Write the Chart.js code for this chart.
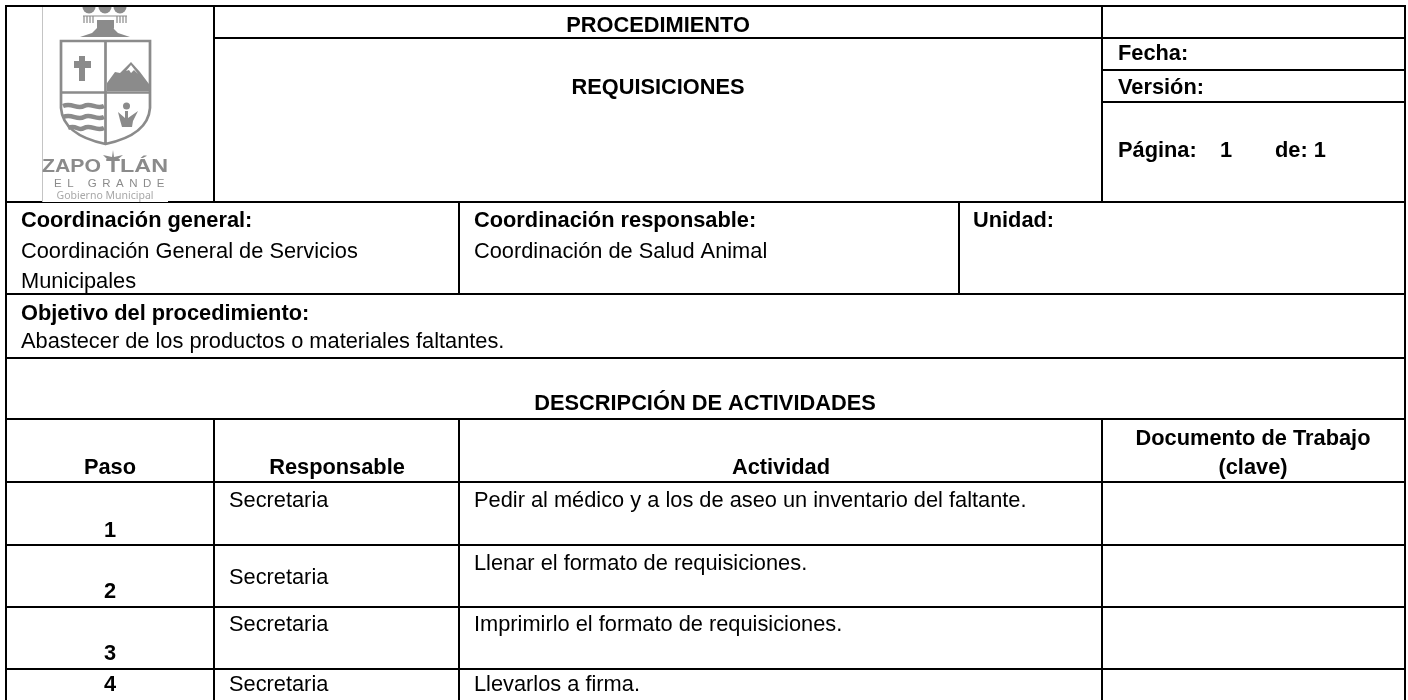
<!DOCTYPE html>
<html lang="es">
<head>
<meta charset="utf-8">
<title>Requisiciones</title>
<script src="https://cdn.jsdelivr.net/npm/chart.js@4"></script>
<style>
  html, body { margin: 0; padding: 0; background: #fff; overflow: hidden; }
  canvas { display: block; }
</style>
</head>
<body>
<canvas id="sheet" width="1408" height="700"></canvas>
<script>
// Table content
const pasos = ["1", "2", "3", "4"];
const responsables = ["Secretaria", "Secretaria", "Secretaria", "Secretaria"];
const actividades = [
    "Pedir al médico y a los de aseo un inventario del faltante.",
    "Llenar el formato de requisiciones.",
    "Imprimirlo el formato de requisiciones.",
    "Llevarlos a firma."
];
const encabezados = ["Paso", "Responsable", "Actividad"];

// Sheet layout, in sheet units (x 0-1408, y 0-700 downwards)
const colX = [6, 214, 459, 959, 1102, 1405];
const rowY = [6, 38, 70, 102, 202, 294, 358, 419, 482, 545, 607, 669, 700];
const pasoBase = [537, 598, 660, 691];
const respBase = [507, 584, 631, 691];
const activBase = [507, 570, 631, 691];

// [x1, y1, x2, y2] for every rule of the form
const rules = [
    [colX[0], rowY[0], colX[5], rowY[0]],
    [colX[1], rowY[1], colX[5], rowY[1]],
    [colX[4], rowY[2], colX[5], rowY[2]],
    [colX[4], rowY[3], colX[5], rowY[3]],
    [colX[0], rowY[4], colX[5], rowY[4]],
    [colX[0], rowY[5], colX[5], rowY[5]],
    [colX[0], rowY[6], colX[5], rowY[6]],
    [colX[0], rowY[7], colX[5], rowY[7]],
    [colX[0], rowY[8], colX[5], rowY[8]],
    [colX[0], rowY[9], colX[5], rowY[9]],
    [colX[0], rowY[10], colX[5], rowY[10]],
    [colX[0], rowY[11], colX[5], rowY[11]],
    [colX[0], rowY[0], colX[0], rowY[12]],
    [colX[5], rowY[0], colX[5], rowY[12]],
    [colX[1], rowY[0], colX[1], rowY[4]],
    [colX[4], rowY[0], colX[4], rowY[4]],
    [colX[2], rowY[4], colX[2], rowY[5]],
    [colX[3], rowY[4], colX[3], rowY[5]],
    [colX[1], rowY[7], colX[1], rowY[12]],
    [colX[2], rowY[7], colX[2], rowY[12]],
    [colX[4], rowY[7], colX[4], rowY[12]]
];

const BOLD = "bold 21.8px 'Liberation Sans', Arial, sans-serif";
const REG = "21.8px 'Liberation Sans', Arial, sans-serif";

// text, x, baseline, font, align
const labels = [
    ["PROCEDIMIENTO", 658, 32, BOLD, "center"],
    ["REQUISICIONES", 658, 94, BOLD, "center"],
    ["Fecha:", 1118, 60, BOLD, "left"],
    ["Versión:", 1118, 94, BOLD, "left"],
    ["Página:", 1118, 157, BOLD, "left"],
    ["1", 1220, 157, BOLD, "left"],
    ["de: 1", 1275, 157, BOLD, "left"],
    ["Coordinación general:", 21, 227, BOLD, "left"],
    ["Coordinación General de Servicios", 21, 258, REG, "left"],
    ["Municipales", 21, 288, REG, "left"],
    ["Coordinación responsable:", 474, 227, BOLD, "left"],
    ["Coordinación de Salud Animal", 474, 258, REG, "left"],
    ["Unidad:", 973, 227, BOLD, "left"],
    ["Objetivo del procedimiento:", 21, 320, BOLD, "left"],
    ["Abastecer de los productos o materiales faltantes.", 21, 348, REG, "left"],
    ["DESCRIPCIÓN DE ACTIVIDADES", 705, 410, BOLD, "center"],
    [encabezados[0], 110, 474, BOLD, "center"],
    [encabezados[1], 337, 474, BOLD, "center"],
    [encabezados[2], 781, 474, BOLD, "center"],
    ["Documento de Trabajo", 1253, 445, BOLD, "center"],
    ["(clave)", 1253, 474, BOLD, "center"]
];
pasos.forEach((p, i) => labels.push([p, 110, pasoBase[i], BOLD, "center"]));
responsables.forEach((r, i) => labels.push([r, 229, respBase[i], REG, "left"]));
actividades.forEach((a, i) => labels.push([a, 474, activBase[i], REG, "left"]));

// Logo shapes
const LOGO_GRAY = "#8b8b8b";
const logoMountain = [[107, 91], [107, 83], [115, 72], [120, 73], [131, 62], [140, 72], [149, 84], [150, 91]];
const logoSnow = [[131, 65], [126, 71], [129, 70], [131, 73], [134, 70], [138, 74]];
const logoCrossV = [[79, 56], [85, 56], [85, 81], [79, 81]];
const logoCrossH = [[74, 61], [91, 61], [91, 68], [74, 68]];
const logoFigure = [[118, 112], [125, 118], [125, 111], [128, 111], [128, 118], [138, 111], [133, 121], [132, 127], [122, 127], [120, 120]];
const logoCollar = [[80, 37], [92, 33], [97, 28], [113, 28], [118, 33], [130, 37]];
const logoShieldTop = [[97, 20], [114, 20], [114, 28], [110, 35], [101, 35], [97, 28]];
const logoWings = [[113, 150], [114, 157], [123, 155], [117, 160], [108, 160], [103, 155], [112, 157]];
const waveRows = [106, 117, 128];
const scallops = [89, 105, 120];
const columns = [84, 87, 90, 93, 117, 120, 123, 126];

const tablePlugin = {
    id: "tablePlugin",
    afterDatasetsDraw(chart) {
        const { ctx, scales: { x, y } } = chart;
        const px = v => x.getPixelForValue(v);
        const py = v => y.getPixelForValue(v);

        const poly = (pts, color) => {
            ctx.beginPath();
            pts.forEach((p, i) => i ? ctx.lineTo(px(p[0]), py(p[1])) : ctx.moveTo(px(p[0]), py(p[1])));
            ctx.closePath();
            ctx.fillStyle = color;
            ctx.fill();
        };
        // the logo lettering is wider than any installed face, so squeeze it between two x values
        const fitText = (text, x0, x1, base) => {
            ctx.save();
            const w = ctx.measureText(text).width;
            ctx.translate(px(x0), py(base));
            ctx.scale((px(x1) - px(x0)) / w, 1);
            ctx.textAlign = "left";
            ctx.fillText(text, 0, 0);
            ctx.restore();
        };

        ctx.save();
        // logo sits on top of the form rules
        ctx.fillStyle = "#fff";
        ctx.fillRect(px(42), py(7), px(168) - px(42), py(202) - py(7));
        ctx.fillStyle = "#c4c4c4";
        ctx.fillRect(px(42), py(7), 1, py(202) - py(7));

        ctx.strokeStyle = LOGO_GRAY;
        ctx.lineWidth = 2.7;
        ctx.beginPath();
        ctx.moveTo(px(61), py(41));
        ctx.lineTo(px(150), py(41));
        ctx.lineTo(px(150), py(108));
        ctx.quadraticCurveTo(px(148), py(135), px(105.5), py(144));
        ctx.quadraticCurveTo(px(63), py(135), px(61), py(108));
        ctx.closePath();
        ctx.moveTo(px(105.5), py(41));
        ctx.lineTo(px(105.5), py(144));
        ctx.moveTo(px(61), py(92.5));
        ctx.lineTo(px(150), py(92.5));
        ctx.stroke();

        poly(logoMountain, LOGO_GRAY);
        poly(logoSnow, "#fff");
        poly(logoCrossV, LOGO_GRAY);
        poly(logoCrossH, LOGO_GRAY);
        poly(logoFigure, LOGO_GRAY);
        poly(logoCollar, LOGO_GRAY);
        poly(logoShieldTop, LOGO_GRAY);

        ctx.fillStyle = LOGO_GRAY;
        ctx.beginPath();
        ctx.arc(px(126.5), py(106), 3.5, 0, Math.PI * 2);
        ctx.fill();

        ctx.lineWidth = 4.5;
        waveRows.forEach((w, i) => {
            const start = i === 2 ? 68 : 63;
            ctx.beginPath();
            ctx.moveTo(px(start), py(w));
            ctx.bezierCurveTo(px(start + 9), py(w - 4), px(77), py(w + 4), px(84), py(w));
            ctx.bezierCurveTo(px(91), py(w - 4), px(96), py(w + 4), px(104), py(w));
            ctx.stroke();
        });
        scallops.forEach(c => {
            ctx.beginPath();
            ctx.arc(px(c), py(7), 6.5, 0, Math.PI);
            ctx.fill();
        });
        ctx.lineWidth = 1.2;
        ctx.beginPath();
        ctx.moveTo(px(83), py(16));
        ctx.lineTo(px(127), py(16));
        columns.forEach(c => {
            ctx.moveTo(px(c), py(16));
            ctx.lineTo(px(c), py(23));
        });
        ctx.stroke();

        // logo lettering
        ctx.fillStyle = LOGO_GRAY;
        ctx.textBaseline = "alphabetic";
        ctx.font = "bold 18px 'Liberation Sans', Arial, sans-serif";
        fitText("ZAPO", 42, 101, 172);
        fitText("T", 106, 120, 172);
        fitText("LÁN", 120, 168, 172);
        poly(logoWings, LOGO_GRAY);
        ctx.fillStyle = LOGO_GRAY;
        ctx.textAlign = "left";
        ctx.font = "11.5px 'Liberation Sans', Arial, sans-serif";
        ctx.letterSpacing = "5.5px";
        ctx.fillText("EL GRANDE", px(54), py(187));
        ctx.letterSpacing = "0px";
        ctx.textAlign = "center";
        ctx.fillStyle = "#a8a8a8";
        ctx.font = "10.5px 'Noto Sans', sans-serif";
        ctx.fillText("Gobierno Municipal", px(105), py(199));

        // form text
        ctx.fillStyle = "#000";
        labels.forEach(([text, lx, ly, font, align]) => {
            ctx.font = font;
            ctx.textAlign = align;
            ctx.fillText(text, px(lx), py(ly));
        });
        ctx.restore();
    }
};

new Chart(document.getElementById("sheet"), {
    type: "scatter",
    data: {
        datasets: rules.map(r => ({
            data: [{ x: r[0], y: r[1] }, { x: r[2], y: r[3] }],
            showLine: true,
            borderColor: "#000",
            borderWidth: 2,
            borderCapStyle: "square",
            pointRadius: 0,
            clip: false
        }))
    },
    options: {
        responsive: false,
        animation: false,
        layout: { padding: 0 },
        plugins: { legend: { display: false }, tooltip: { enabled: false }, title: { display: false } },
        events: [],
        scales: {
            x: { type: "linear", min: 0, max: 1408, display: false },
            y: { type: "linear", min: 0, max: 700, reverse: true, display: false }
        }
    },
    plugins: [tablePlugin]
});
</script>
</body>
</html>
